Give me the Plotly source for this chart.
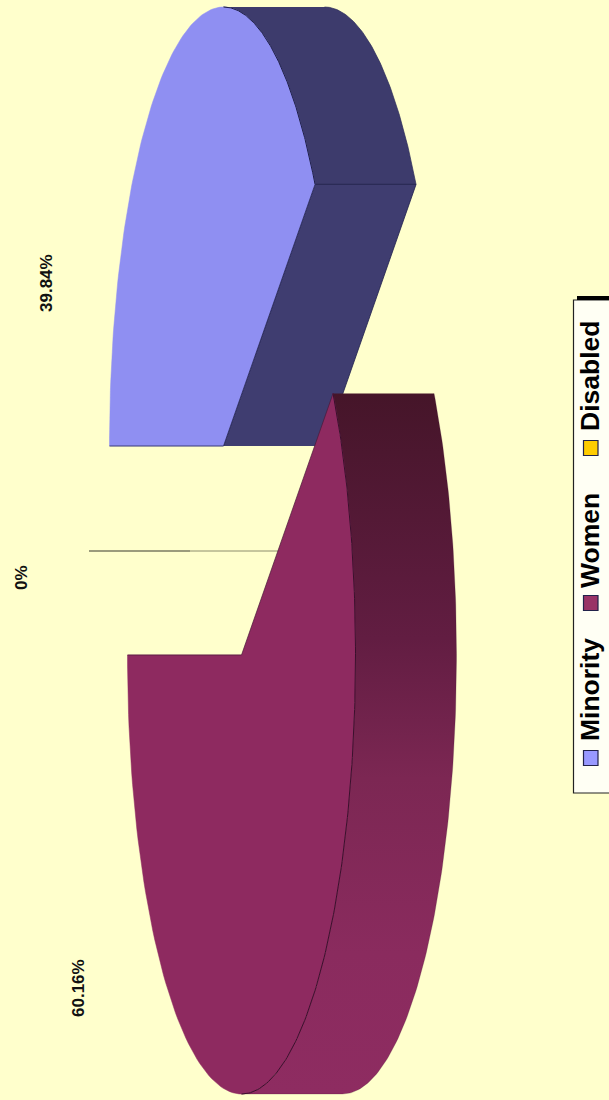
import numpy as np
import plotly.graph_objects as go

categories = ["Minority", "Women", "Disabled"]
values = [39.84, 60.16, 0.0]
labels = ["39.84%", "60.16%", "0%"]
face_colors = ["#8f8ff2", "#8e2a60", "#c0b060"]
swatch_colors = ["#9999ff", "#993366", "#ffcc00"]

BG = "#ffffcc"
A, B, DEPTH = 114, 439, 101
START = 180.0
CENTERS = {"Minority": (223.5, 446), "Women": (241.5, 655)}
DIS_X, DIS_Y = 190, 551
DIS_LEN = 101

fig = go.Figure()


def arc(c, t0, t1, dx=0):
    t = np.radians(np.linspace(t0, t1, 140))
    return c[0] + A * np.cos(t) + dx, c[1] + B * np.sin(t)


def poly(x, y, fill, line="#1c1838", lw=0.8, grad=None):
    kw = dict(fillgradient=grad) if grad else dict(fillcolor=fill)
    fig.add_trace(go.Scatter(x=list(x), y=list(y), mode="lines", fill="toself",
                             line=dict(color=line, width=lw), hoverinfo="skip",
                             showlegend=False, **kw))


def edge(x, y, color, lw=0.8):
    fig.add_trace(go.Scatter(x=list(x), y=list(y), mode="lines",
                             line=dict(color=color, width=lw), hoverinfo="skip", showlegend=False))


# Minority: sweeps upward from the left edge
m = CENTERS["Minority"]
end = START + values[0] * 3.6
ax, ay = arc(m, START, end)
wx, wy = arc(m, 270, end)
ox, oy = arc(m, end, 270, DEPTH)
poly(np.r_[wx, ox], np.r_[wy, oy], "#3d3b6c", line="#2a2a58", lw=0.7)
poly([m[0], ax[-1], ax[-1] + DEPTH, m[0] + DEPTH],
     [m[1], ay[-1], ay[-1], m[1]], "#3f3d70", line="#20204c")
poly(np.r_[m[0], ax], np.r_[m[1], ay], face_colors[0], line=face_colors[0], lw=0.5)
edge(np.r_[ax[0], m[0], ax[-1]], np.r_[ay[0], m[1], ay[-1]], "#2a2a5a")
edge(wx, wy, "#1e1e48", 1)

# Disabled: zero-width wedge
edge([DIS_X, DIS_X + DEPTH], [DIS_Y, DIS_Y], "#8c8c6c", 1)
edge([DIS_X - DIS_LEN, DIS_X], [DIS_Y, DIS_Y], "#7a7a62", 1.7)

# Women: sweeps downward from the left edge
w = CENTERS["Women"]
end = START - values[1] * 3.6
ax, ay = arc(w, START, end)
ix, iy = arc(w, end, 90)
ox, oy = arc(w, 90, end, DEPTH)
grad = dict(type="vertical", start=393, stop=1094,
            colorscale=[[0, "#451529"], [0.35, "#621d42"], [0.55, "#7c2753"], [0.8, "#8a2b5e"], [1, "#8e2c61"]])
poly(np.r_[ix, ox], np.r_[iy, oy], None, line="rgba(70,20,50,0.4)", lw=0.6, grad=grad)
poly(np.r_[w[0], ax], np.r_[w[1], ay], face_colors[1], line=face_colors[1], lw=0.5)
edge(np.r_[ax[0], w[0], ax[-1]], np.r_[ay[0], w[1], ay[-1]], "#4a1a3a", 0.7)
edge(ix, iy, "#3a0f2c", 1)

annotations = []
for txt, (x, y) in zip(labels, [(46, 283), (78, 988), (21, 578)]):
    annotations.append(dict(x=x, y=y, text=f"<b>{txt}</b>", textangle=-90, showarrow=False,
                            xanchor="center", yanchor="middle",
                            font=dict(family="Liberation Sans", size=17, color="#111111")))

# Legend box
shapes = [
    dict(type="rect", x0=573.5, x1=625, y0=300, y1=793, fillcolor="#fffff4",
         line=dict(color="#222222", width=1.2), layer="below"),
    dict(type="rect", x0=577, x1=625, y0=296, y1=300, fillcolor="#000000", line=dict(width=0)),
]
leg_swatch_y = [758, 603, 448]
leg_text_y = [690, 541, 376]
for name, col, sy, ty in zip(categories, swatch_colors, leg_swatch_y, leg_text_y):
    shapes.append(dict(type="rect", x0=583.5, x1=598, y0=sy - 7.5, y1=sy + 7.5, fillcolor=col,
                       line=dict(color="#22224a", width=1.2)))
    annotations.append(dict(x=590, y=ty, text=f"<b>{name}</b>", textangle=-90, showarrow=False,
                            xanchor="center", yanchor="middle",
                            font=dict(family="Liberation Sans", size=26.5, color="#000000")))

fig.update_layout(
    width=609, height=1100, margin=dict(l=0, r=0, t=0, b=0),
    paper_bgcolor=BG, plot_bgcolor=BG, showlegend=False,
    xaxis=dict(range=[0, 609], visible=False, fixedrange=True),
    yaxis=dict(range=[1100, 0], visible=False, fixedrange=True),
    annotations=annotations, shapes=shapes,
)
fig.write_html("out.html", config=dict(displayModeBar=False),
               post_script='document.body.style.margin="0";document.body.style.background="#ffffcc";')
